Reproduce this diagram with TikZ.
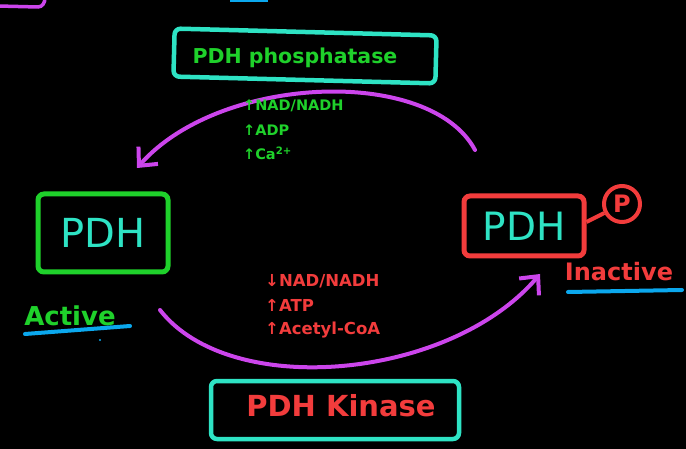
\documentclass[tikz,border=0pt]{standalone}
\usepackage{fontspec}
\setmainfont{DejaVu Sans}
\usetikzlibrary{arrows.meta}
\definecolor{cyanink}{HTML}{2EE3C4}
\definecolor{greenink}{HTML}{1FD12B}
\definecolor{redink}{HTML}{F23C3C}
\definecolor{magink}{HTML}{CC45EC}
\definecolor{blueink}{HTML}{0BA8EE}
\tikzset{
  enzbox/.style={draw=cyanink, line width=4.5pt, rounded corners=6pt, inner sep=0pt},
  pdhbox/.style={line width=5pt, rounded corners=6pt, inner sep=0pt, text=cyanink, font=\fontsize{40}{42}\selectfont},
  arc/.style={draw=magink, line width=4pt, line cap=round, -{Straight Barb[length=14pt,width=26pt,line width=4pt]}},
  effector/.style={font=\bfseries\fontsize{14.5}{16}\selectfont, anchor=west, inner sep=0pt},
  stateword/.style={font=\bfseries\fontsize{26}{28}\selectfont, inner sep=0pt},
  underline/.style={draw=blueink, line width=4pt, line cap=round}
}
\begin{document}
\begin{tikzpicture}[x=1pt,y=-1pt]
\fill[black] (0,0) rectangle (686,449);
\useasboundingbox (0,0) rectangle (686,449);
% cut-off fragments at the top edge
\draw[magink, line width=3.5pt, line cap=round] (-2,6) -- (38,7) to[out=0,in=-90] (45,-2);
\draw[blueink, line width=4pt] (230,0) -- (268,0);
% enzyme boxes
\node[enzbox, minimum width=262pt, minimum height=48pt, rotate=-1.5] (phos) at (305,56) {};
\node[text=greenink, font=\bfseries\fontsize{20.5}{22}\selectfont] (phostext) at (295,58) {PDH phosphatase};
\node[enzbox, minimum width=248pt, minimum height=58pt] (kin) at (335,410) {};
\node[text=redink, font=\bfseries\fontsize{29}{31}\selectfont] (kintext) at (341,406) {PDH Kinase};
% PDH active
\node[pdhbox, draw=greenink, minimum width=130pt, minimum height=78pt] (active) at (103,233) {PDH};
\node[stateword, text=greenink] (activelabel) at (70,316) {Active};
\draw[underline] (25,334) -- (130,326);
\fill[blueink] (100,340) circle (1.2pt);
% PDH inactive
\node[pdhbox, draw=redink, minimum width=120pt, minimum height=60pt, font=\fontsize{39}{41}\selectfont] (inactive) at (524,226) {PDH};
\node[circle, draw=redink, line width=4pt, minimum size=36pt, inner sep=0pt, text=redink, font=\bfseries\fontsize{24}{26}\selectfont] (phosP) at (622,204) {P};
\draw[redink, line width=4pt] (inactive.east) ++(0,-4) coordinate (ie) (ie) -- (phosP);
\node[stateword, text=redink, font=\bfseries\fontsize{24}{26}\selectfont] (inactivelabel) at (619,272) {Inactive};
\draw[underline] (568,292) -- (682,290);
% cycle arcs
\coordinate (topstart) at (475,150);
\coordinate (topend) at (137,168);
\draw[arc] (topstart) .. controls (430,66) and (220,74) .. (topend);
\coordinate (botstart) at (160,310);
\coordinate (botend) at (540,274);
\draw[arc] (botstart) .. controls (230,400) and (450,380) .. (botend);
% effectors
\node[effector, text=greenink] (e1) at (243,106) {↑NAD/NADH};
\node[effector, text=greenink] (e2) at (243,130) {↑ADP};
\node[effector, text=greenink] (e3) at (243,153) {↑Ca\textsuperscript{2+}};
\node[effector, text=redink, font=\bfseries\fontsize{16.5}{18}\selectfont] (k1) at (265,281) {↓NAD/NADH};
\node[effector, text=redink, font=\bfseries\fontsize{16.5}{18}\selectfont] (k2) at (265,305) {↑ATP};
\node[effector, text=redink, font=\bfseries\fontsize{16.5}{18}\selectfont] (k3) at (265,330) {↑Acetyl-CoA};
\end{tikzpicture}
\end{document}
